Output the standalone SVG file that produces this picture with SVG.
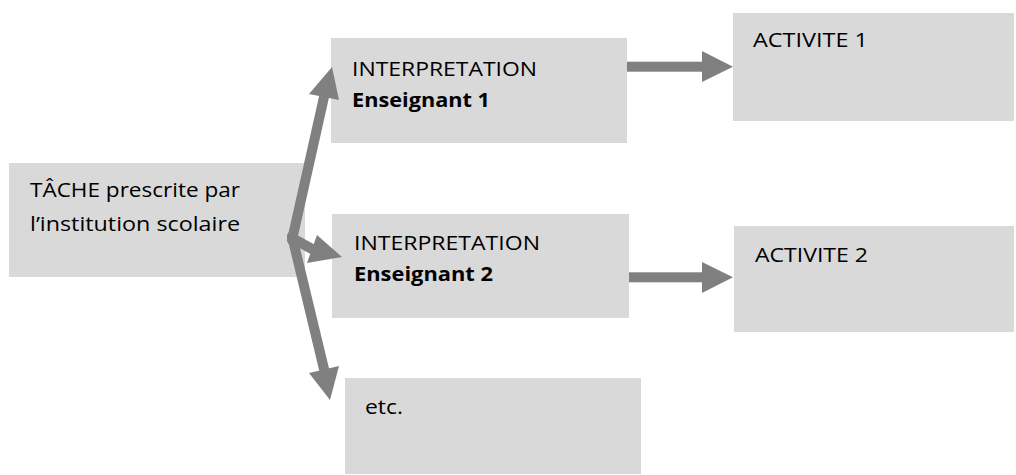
<svg xmlns="http://www.w3.org/2000/svg" width="1016" height="475" viewBox="0 0 1016 475">
<style>
.box{fill:#d9d9d9;}
.t{font-family:"Open Sans","Liberation Sans",sans-serif;font-size:20px;fill:#000;}
.b{font-weight:bold;}
.sh{stroke:#808080;stroke-width:10;fill:none;}
.hd{fill:#808080;}
</style>
<rect width="1016" height="475" fill="#fff"/>
<g id="tache">
<rect class="box" x="9" y="163" width="296" height="114"/>
<text class="t" x="30" y="197" textLength="210" lengthAdjust="spacingAndGlyphs">TÂCHE prescrite par</text>
<text class="t" x="30" y="231" textLength="210" lengthAdjust="spacingAndGlyphs">l’institution scolaire</text>
</g>
<g id="interp1">
<rect class="box" x="331" y="38" width="296" height="105"/>
<text class="t" x="352" y="76" textLength="185" lengthAdjust="spacingAndGlyphs">INTERPRETATION</text>
<text class="t b" x="352" y="107" textLength="138" lengthAdjust="spacingAndGlyphs">Enseignant 1</text>
</g>
<g id="interp2">
<rect class="box" x="332" y="214" width="297" height="104"/>
<text class="t" x="354" y="250" textLength="186" lengthAdjust="spacingAndGlyphs">INTERPRETATION</text>
<text class="t b" x="354" y="281" textLength="139" lengthAdjust="spacingAndGlyphs">Enseignant 2</text>
</g>
<g id="etc">
<rect class="box" x="345" y="378" width="296" height="96"/>
<text class="t" x="365" y="414" textLength="38" lengthAdjust="spacingAndGlyphs">etc.</text>
</g>
<g id="activite1">
<rect class="box" x="733" y="13" width="281" height="108"/>
<text class="t" x="753" y="47" textLength="115" lengthAdjust="spacingAndGlyphs">ACTIVITE 1</text>
</g>
<g id="activite2">
<rect class="box" x="734" y="226" width="280" height="106"/>
<text class="t" x="755" y="262" textLength="113" lengthAdjust="spacingAndGlyphs">ACTIVITE 2</text>
</g>
<g id="connectors">
<line class="sh" x1="292" y1="240" x2="324" y2="97" stroke-linecap="round"/>
<polygon class="hd" points="332,67 309,94 339,100"/>
<line class="sh" x1="292" y1="238" x2="312" y2="249" stroke-linecap="round"/>
<polygon class="hd" points="342,257 317,235 307,263"/>
<line class="sh" x1="292" y1="236" x2="324" y2="369" stroke-linecap="round"/>
<polygon class="hd" points="330,400 309,373 339,366"/>
<rect class="hd" x="627" y="61.7" width="76" height="10"/>
<polygon class="hd" points="702,51 733,66.7 702,82"/>
<rect class="hd" x="629" y="272.3" width="74" height="10"/>
<polygon class="hd" points="702,262 733,277.3 702,293"/>
</g>
</svg>
